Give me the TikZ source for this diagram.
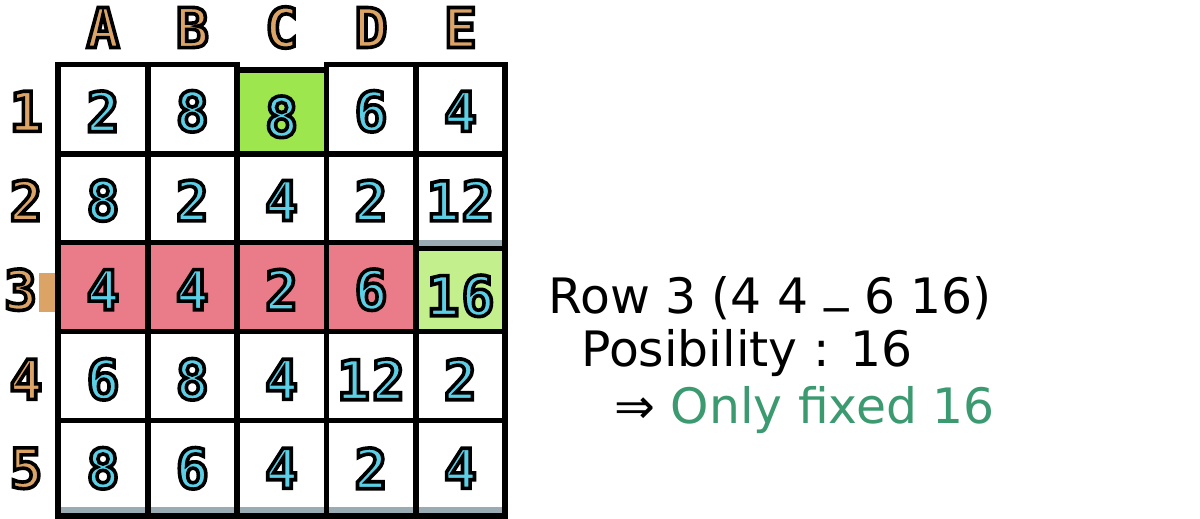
\documentclass[tikz,border=0pt]{standalone}
\usepackage{fontspec}
\setmainfont{DejaVu Sans}
\newfontfamily\pixfont{DejaVu Sans Mono}
\definecolor{rowpink}{HTML}{EA7B88}
\definecolor{selgreen}{HTML}{9DE64E}
\definecolor{fixgreen}{HTML}{C3F08C}
\definecolor{digitcyan}{HTML}{5BCFE6}
\definecolor{lblorange}{HTML}{DBA366}
\definecolor{shadowgray}{HTML}{9BABB3}
\definecolor{txtgreen}{HTML}{3B9A70}
\newcommand\outlined[2]{{\color{#1}\special{pdf:bcontent}\special{pdf:code 2 Tr 1.8 w 0 G 0 j}#2\special{pdf:econtent}}}
\tikzset{
  gridline/.style={line width=2.75pt, black, line cap=rect},
  cellnum/.style={inner sep=0pt, font=\pixfont\bfseries\fontsize{27.5}{30}\selectfont},
  hdr/.style={inner sep=0pt, font=\pixfont\bfseries\fontsize{27.5}{30}\selectfont},
  note/.style={inner sep=0pt, anchor=base west, font=\fontsize{24.4}{28}\selectfont}
}
\begin{document}
\begin{tikzpicture}[x=0.5pt,y=-0.5pt]
\useasboundingbox[fill=white] (0,0) rectangle (1200,519);
% cell fills
\fill[rowpink] (58,242.5) rectangle (415.8,331.7);
\fill[selgreen] (236.8,70) rectangle (326.5,154);
\fill[fixgreen] (415.8,248.3) rectangle (505,331.7);
\fill[shadowgray] (415.8,239.8) rectangle (505,245.5);
\fill[shadowgray] (58,507.3) rectangle (505,513.2);
\fill[lblorange] (39,273.3) rectangle (56,311.7);
% vertical lines
\foreach \x in {58,147.8,236.8,326.5,415.8,505}
  \draw[gridline, line cap=butt] (\x,61.9) -- (\x,519);
% horizontal lines
\draw[gridline] (58,64.7) -- (236.8,64.7);
\draw[gridline] (326.5,64.7) -- (505,64.7);
\draw[gridline, line cap=butt] (236.8,70) -- (326.5,70);
\draw[gridline] (58,154) -- (505,154);
\draw[gridline] (58,242.5) -- (415.8,242.5);
\draw[gridline, line cap=butt] (415.8,248.3) -- (505,248.3);
\draw[gridline] (58,331.7) -- (505,331.7);
\draw[gridline] (58,420.7) -- (505,420.7);
\draw[gridline] (58,516) -- (505,516);
% column headers
\node[hdr] (hA) at (103,27.5) {\outlined{lblorange}{A}};
\node[hdr] (hB) at (192.3,27.5) {\outlined{lblorange}{B}};
\node[hdr] (hC) at (281.6,27.5) {\outlined{lblorange}{C}};
\node[hdr] (hD) at (371,27.5) {\outlined{lblorange}{D}};
\node[hdr] (hE) at (460.4,27.5) {\outlined{lblorange}{E}};
% row labels
\node[hdr, anchor=east] (r1) at (43,111.3) {\outlined{lblorange}{1}};
\node[hdr, anchor=east] (r2) at (43,200.5) {\outlined{lblorange}{2}};
\node[hdr, anchor=east] (r3) at (37.5,289.7) {\outlined{lblorange}{3}};
\node[hdr, anchor=east] (r4) at (43,379.3) {\outlined{lblorange}{4}};
\node[hdr, anchor=east] (r5) at (43,468.3) {\outlined{lblorange}{5}};
% row 1
\node[cellnum] (a1) at (103,111.3) {\outlined{digitcyan}{2}};
\node[cellnum] (b1) at (192.3,111.3) {\outlined{digitcyan}{8}};
\node[cellnum] (c1) at (281.6,116.8) {\outlined{digitcyan}{8}};
\node[cellnum] (d1) at (371,111.3) {\outlined{digitcyan}{6}};
\node[cellnum] (e1) at (460.4,111.3) {\outlined{digitcyan}{4}};
% row 2
\node[cellnum] (a2) at (103,200.5) {\outlined{digitcyan}{8}};
\node[cellnum] (b2) at (192.3,200.5) {\outlined{digitcyan}{2}};
\node[cellnum] (c2) at (281.6,200.5) {\outlined{digitcyan}{4}};
\node[cellnum] (d2) at (371,200.5) {\outlined{digitcyan}{2}};
\node[cellnum] (e2) at (460.4,200.5) {\outlined{digitcyan}{1\kern1pt 2}};
% row 3
\node[cellnum] (a3) at (103,289.7) {\outlined{digitcyan}{4}};
\node[cellnum] (b3) at (192.3,289.7) {\outlined{digitcyan}{4}};
\node[cellnum] (c3) at (281.6,289.7) {\outlined{digitcyan}{2}};
\node[cellnum] (d3) at (371,289.7) {\outlined{digitcyan}{6}};
\node[cellnum] (e3) at (460.4,295.8) {\outlined{digitcyan}{1\kern1pt 6}};
% row 4
\node[cellnum] (a4) at (103,379.3) {\outlined{digitcyan}{6}};
\node[cellnum] (b4) at (192.3,379.3) {\outlined{digitcyan}{8}};
\node[cellnum] (c4) at (281.6,379.3) {\outlined{digitcyan}{4}};
\node[cellnum] (d4) at (371,379.3) {\outlined{digitcyan}{1\kern1pt 2}};
\node[cellnum] (e4) at (460.4,379.3) {\outlined{digitcyan}{2}};
% row 5
\node[cellnum] (a5) at (103,468.3) {\outlined{digitcyan}{8}};
\node[cellnum] (b5) at (192.3,468.3) {\outlined{digitcyan}{6}};
\node[cellnum] (c5) at (281.6,468.3) {\outlined{digitcyan}{4}};
\node[cellnum] (d5) at (371,468.3) {\outlined{digitcyan}{2}};
\node[cellnum] (e5) at (460.4,468.3) {\outlined{digitcyan}{4}};
% explanation text
\node[note] (t1) at (548,313) {Row 3 (4 4 \raisebox{6pt}{\_} 6 16)};
\node[note] (t2) at (581,366.7) {Posibility : 16};
\node[note] (t3) at (614,423) {⇒ \textcolor{txtgreen}{Only fixed 16}};
\end{tikzpicture}
\end{document}
